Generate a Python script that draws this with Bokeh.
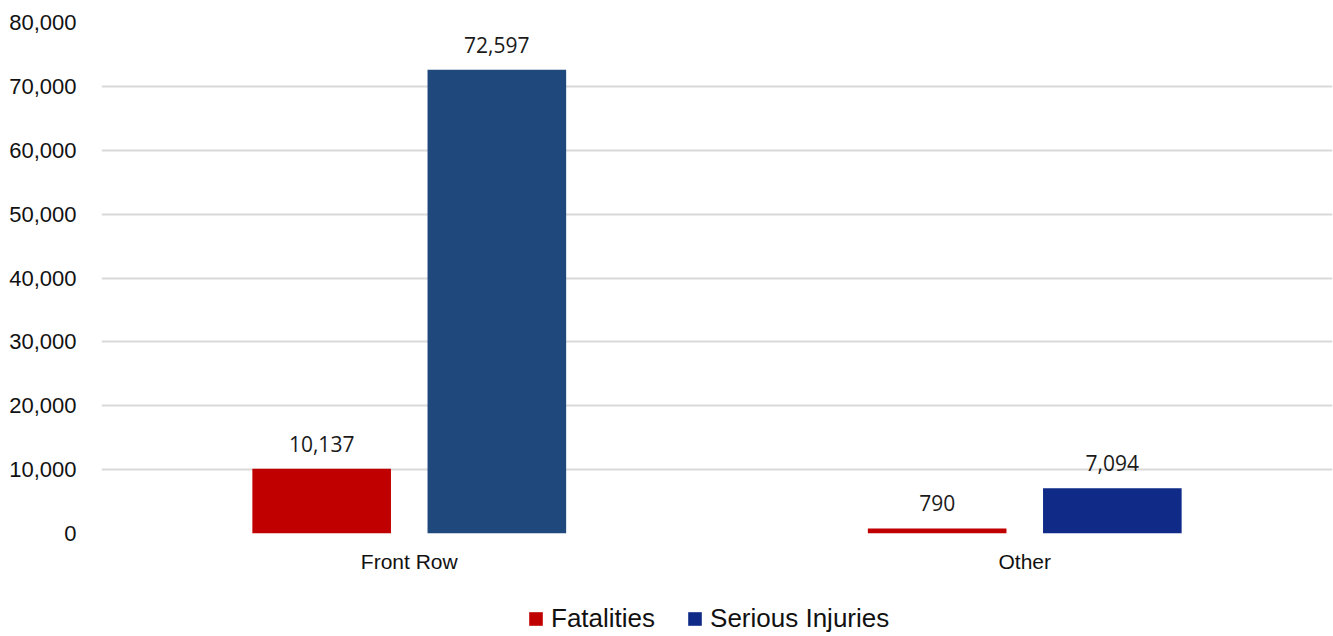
from bokeh.plotting import figure
from bokeh.layouts import column
from bokeh.models import (ColumnDataSource, FactorRange, Range1d, LabelSet, Legend,
                          LegendItem, FixedTicker, NumeralTickFormatter)
from bokeh.core.properties import value
from bokeh.transform import dodge
from bokeh.embed import file_html
from bokeh.resources import INLINE

categories = ["Front Row", "Other"]
fatalities = [10137, 790]
serious_injuries = [72597, 7094]
fatalities_labels = ["10,137", "790"]
serious_labels = ["72,597", "7,094"]
y_ticks = [0, 10000, 20000, 30000, 40000, 50000, 60000, 70000, 80000]
series_names = ["Fatalities", "Serious Injuries"]

RED = "#C00000"
SERIOUS_COLORS = ["#1F497D", "#0F2A87"]

src = ColumnDataSource(data=dict(
    cat=categories,
    fat=fatalities,
    ser=serious_injuries,
    fat_lbl=fatalities_labels,
    ser_lbl=serious_labels,
    ser_color=SERIOUS_COLORS,
))

W = 1333
p = figure(width=W, height=580, output_backend="svg", toolbar_location=None,
           x_range=FactorRange(*categories, range_padding=0),
           y_range=Range1d(0, 80000),
           min_border_left=101, min_border_right=1, min_border_top=22, min_border_bottom=47)
p.outline_line_color = None

bw = 0.2252
off = 0.1423


def draw_bars(fig):
    a = fig.vbar(x=dodge("cat", -off, range=p.x_range), top="fat", width=bw, source=src,
                 fill_color=RED, line_color=None)
    b = fig.vbar(x=dodge("cat", off, range=p.x_range), top="ser", width=bw, source=src,
                 fill_color="ser_color", line_color=None)
    return a, b


draw_bars(p)

for ycol, tcol, dx in (("fat", "fat_lbl", -off), ("ser", "ser_lbl", off)):
    p.add_layout(LabelSet(x=dodge("cat", dx, range=p.x_range), y=ycol, text=tcol, source=src,
                          y_offset=17, text_align="center", text_baseline="alphabetic",
                          text_font=value("Open Sans"), text_font_size=value("21px"),
                          text_color="#1a1a1a"))

# axes
p.yaxis.ticker = FixedTicker(ticks=y_ticks)
p.yaxis.formatter = NumeralTickFormatter(format="0,0")
p.yaxis.axis_line_color = None
p.yaxis.major_tick_line_color = None
p.yaxis.major_tick_out = 0
p.yaxis.major_tick_in = 0
p.yaxis.minor_tick_line_color = None
p.yaxis.major_label_standoff = 25
p.yaxis.major_label_text_font = "Liberation Sans"
p.yaxis.major_label_text_font_size = "22px"
p.yaxis.major_label_text_color = "#111111"

p.xaxis.axis_line_color = None
p.xaxis.major_tick_line_color = None
p.xaxis.major_label_standoff = 10
p.xaxis.major_label_text_font = "Liberation Sans"
p.xaxis.major_label_text_font_size = "21px"
p.xaxis.major_label_text_color = "#111111"

p.xgrid.grid_line_color = None
p.ygrid.grid_line_color = "#D9D9D9"
p.ygrid.grid_line_width = 2
p.ygrid.ticker = FixedTicker(ticks=y_ticks)

# legend strip below the chart (legend-only renderers, not drawn)
lg = figure(width=W, height=56, output_backend="svg", toolbar_location=None,
            x_range=p.x_range, y_range=Range1d(-300000, -200000),
            min_border=0, x_axis_type=None, y_axis_type=None)
lg.outline_line_color = None
lg.grid.grid_line_color = None
r1, r2 = draw_bars(lg)
r1.visible = False
r2.visible = False
legend = Legend(items=[
    LegendItem(label=series_names[0], renderers=[r1], index=0),
    LegendItem(label=series_names[1], renderers=[r2], index=1),
], orientation="horizontal", location=(426, 2),
    border_line_color=None, background_fill_alpha=0, padding=0, margin=0,
    glyph_width=17, glyph_height=17, label_standoff=7, spacing=31,
    label_text_font="Liberation Sans", label_text_font_size="26px",
    label_text_color="#111111")
lg.add_layout(legend, "center")

layout = column(p, lg, spacing=0)
open("out.html", "w").write(file_html(layout, INLINE))
